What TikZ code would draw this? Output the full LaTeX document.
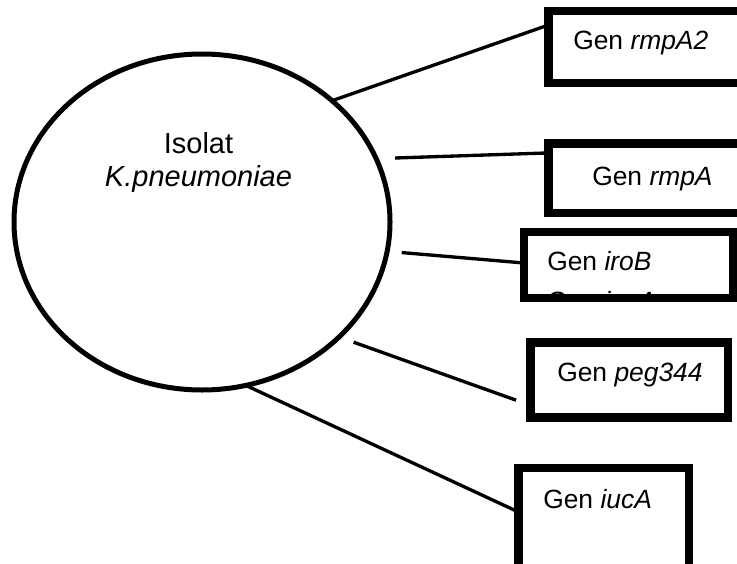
\documentclass[tikz,border=0pt]{standalone}
\usepackage{fontspec}
\setmainfont{Liberation Sans}
\usetikzlibrary{shapes.geometric}

\begin{document}
\begin{tikzpicture}[x=0.75pt, y=-0.75pt,
        genbox/.style={draw, rectangle, line width=6.4pt, inner sep=0pt, outer sep=0pt},
        gentext/.style={anchor=base west, inner sep=0pt, font=\fontsize{19.8}{23.8}\selectfont},
        link/.style={line width=2.5pt}]
    \useasboundingbox (0,0) rectangle (737,563);
    \fill[white] (0,0) rectangle (737,563);
    \clip (0,0) rectangle (737,563);

    \node (isolat) [draw, ellipse, line width=3.75pt, minimum width=282pt, minimum height=252pt, inner sep=0pt, outer sep=0pt] at (202, 222) {};
    \node (isolat_text) [anchor=base, align=center, inner sep=0pt, font=\fontsize{21.75}{24.75}\selectfont] at (198.5, 186) {Isolat\\\textit{K.pneumoniae}};

    \node (rmpA2) [genbox, minimum width=158.6pt, minimum height=54pt] at (654.25, 47) {};
    \node (rmpA) [genbox, minimum width=158.6pt, minimum height=52.1pt] at (654.25, 178.25) {};
    \node (iroB) [genbox, minimum width=157.1pt, minimum height=49.5pt] at (628.75, 265) {};
    \node (peg344) [genbox, minimum width=148.1pt, minimum height=56.25pt] at (629.25, 380) {};
    \node (iucA) [genbox, minimum width=127.9pt, minimum height=76.5pt] at (603.75, 519) {};

    \node (rmpA2_text) [gentext] at (573, 50) {Gen \textit{rmpA2}};
    \node (rmpA_text) [gentext] at (592, 185) {Gen \textit{rmpA}};
    \node (iroB_text) [gentext] at (547, 270) {Gen \textit{iroB}};
    \node (peg344_text) [gentext] at (557, 381.7) {Gen \textit{peg344}};
    \node (iucA_text) [gentext] at (543, 508) {Gen \textit{iucA}};
    \begin{scope}
        \clip ([shift={(4.25,4.25)}]iroB.north west) rectangle ([shift={(-4.25,-4.25)}]iroB.south east);
        \node (iroB_more) [gentext] at (547, 310) {Gen \textit{iucA}};
    \end{scope}

    \draw[link] (isolat.43) -- ([yshift=16.5pt]rmpA2.west);
    \draw[link, shorten <=14.3pt] (isolat.20) -- ([yshift=19pt]rmpA.west);
    \draw[link, shorten <=11pt] (isolat.-9) -- ([yshift=1.5pt]iroB.west);
    \draw[link, shorten <=11.6pt, shorten >=11.5pt] (isolat.-40) -- ([yshift=-19pt]peg344.west);
    \draw[link] (isolat.-75.5) -- ([yshift=5.25pt]iucA.west);
\end{tikzpicture}
\end{document}
